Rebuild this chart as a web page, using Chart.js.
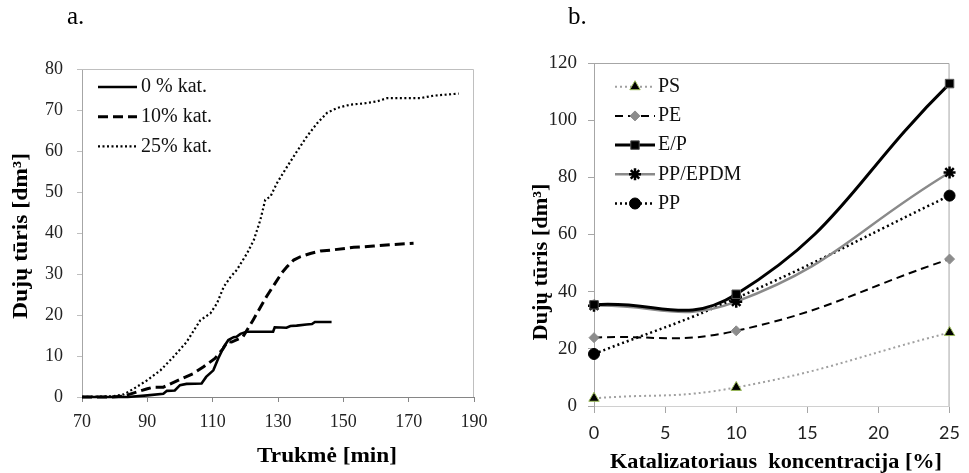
<!DOCTYPE html>
<html>
<head>
<meta charset="utf-8">
<script src="https://cdn.jsdelivr.net/npm/chart.js@4/dist/chart.umd.min.js"></script>
<style>
    html, body { margin: 0; padding: 0; background: #fff; }
    #page { position: relative; width: 969px; height: 473px; overflow: hidden; }
    .panel { position: absolute; top: 0; height: 473px; }
    #panel-a { left: 0; width: 500px; }
    #panel-b { left: 480px; width: 489px; }
    .letter { position: absolute; top: 2px; font: 25px "Liberation Serif", "Times New Roman", serif; color: #000; }
</style>
</head>
<body>
<div id="page">
    <div class="panel" id="panel-a"><canvas id="chart-a"></canvas></div>
    <div class="panel" id="panel-b"><canvas id="chart-b"></canvas></div>
    <div class="letter" style="left:67px;">a.</div>
    <div class="letter" style="left:568px;">b.</div>
</div>
<script>
'use strict';

// --- a. duju turis pagal trukme ---
const laikas0 = [70, 84, 90, 94.9, 96, 98.4, 100, 102, 106.6, 108, 110.2, 111.7, 113.4, 114.8, 116.4, 117.3, 118.5, 120.4, 128.5, 129, 132.6, 133.8, 135.7, 138.7, 140.4, 141.3, 146.4];
const turis0  = [0, 0, 0.4, 0.8, 1.5, 1.6, 2.9, 3.2, 3.3, 4.9, 6.5, 9.4, 12.2, 13.9, 14.6, 14.7, 15.4, 15.9, 15.9, 17, 16.9, 17.3, 17.4, 17.7, 17.8, 18.3, 18.3];

const laikas10 = [70, 79, 82.6, 86.7, 90, 91.8, 94.9, 100, 104, 107.1, 110.7, 113.2, 114.5, 115.8, 119.3, 122.4, 126.5, 131.1, 132.8, 134.8, 136.8, 139.9, 143, 147, 153.2, 159.3, 165.4, 171.5];
const turis10  = [0, 0, 0.2, 1.2, 2, 2.4, 2.4, 4.3, 5.7, 7.3, 9.4, 11.8, 13.5, 13.4, 14.7, 18.8, 24.5, 30.2, 31.8, 33.4, 34.2, 35, 35.6, 35.9, 36.5, 36.8, 37.2, 37.5];

const laikas25 = [70, 79.7, 82.8, 85.8, 90, 94, 98, 102, 106.2, 109.3, 111.3, 113.4, 115.5, 117.4, 120.5, 122.6, 124.6, 126.1, 127.7, 129.7, 132.8, 135.8, 138.9, 142, 145, 148.1, 152.1, 156.2, 160.3, 163.4, 167.4, 173.6, 177.7, 185.3];
const turis25  = [0, 0.2, 0.65, 2, 4.1, 6.5, 9.8, 13.4, 18.7, 20.4, 22.8, 26.9, 29.3, 31, 35, 38.3, 43.2, 48.1, 48.9, 52.2, 56.2, 59.9, 63.6, 66.8, 69.3, 70.5, 71.3, 71.6, 72.1, 72.9, 72.9, 72.9, 73.5, 74];

const ticksLaikas = [70, 90, 110, 130, 150, 170, 190];
const ticksTurisA = [0, 10, 20, 30, 40, 50, 60, 70, 80];

// --- b. duju turis pagal katalizatoriaus koncentracija ---
const koncentracija = [0, 10, 25];
const turisPS     = [2.7, 6.5, 25.7];
const turisPE     = [23.9, 26.3, 51.4];
const turisEP     = [35.4, 39.1, 112.8];
const turisPPEPDM = [35.1, 36.5, 81.7];
const turisPP     = [18.2, 37.7, 73.6];

const ticksKonc = [0, 5, 10, 15, 20, 25];
const ticksTurisB = [0, 20, 40, 60, 80, 100, 120];

const SERIF = '"Liberation Serif", "Times New Roman", serif';
const SANS = 'Lato, "Open Sans", sans-serif';

const toXY = (xs, ys) => xs.map((x, i) => ({ x, y: ys[i] }));

// remelis aplink brezinio plota (virsus ir desine)
const plotFrame = {
    id: 'plotFrame',
    beforeDatasetsDraw(chart, args, opts) {
        const { ctx, chartArea: a } = chart;
        ctx.save();
        ctx.strokeStyle = opts.color || '#bfbfbf';
        ctx.lineWidth = 1;
        ctx.beginPath();
        ctx.moveTo(a.left, a.top + 0.5);
        ctx.lineTo(a.right - 0.5, a.top + 0.5);
        ctx.lineTo(a.right - 0.5, a.bottom);
        ctx.stroke();
        ctx.restore();
    }
};

// legenda brezinio viduje, linija + zymeklis
const innerLegend = {
    id: 'innerLegend',
    afterDatasetsDraw(chart, args, opts) {
        const { ctx, chartArea } = chart;
        chart.data.datasets.forEach((ds, i) => {
            const x0 = chartArea.left + opts.left;
            const y = chartArea.top + opts.top + i * opts.rowGap;
            ctx.save();
            ctx.strokeStyle = ds.borderColor;
            ctx.lineWidth = ds.borderWidth;
            ctx.setLineDash(ds.borderDash || []);
            ctx.beginPath();
            ctx.moveTo(x0, y);
            ctx.lineTo(x0 + opts.lineLen, y);
            ctx.stroke();
            if (ds.pointRadius) {
                ctx.setLineDash([]);
                ctx.fillStyle = ds.pointBackgroundColor;
                ctx.strokeStyle = ds.pointBorderColor;
                ctx.lineWidth = ds.pointBorderWidth;
                Chart.helpers.drawPoint(ctx, {
                    pointStyle: ds.pointStyle, radius: ds.pointRadius, rotation: 0, borderWidth: ds.pointBorderWidth
                }, x0 + opts.lineLen / 2, y);
            }
            ctx.font = opts.font;
            ctx.fillStyle = '#111';
            ctx.textAlign = 'left';
            ctx.textBaseline = 'middle';
            ctx.fillText(ds.label, x0 + opts.lineLen + opts.gap, y);
            ctx.restore();
        });
    }
};

// asiu pavadinimai (originale istempti, todel ilgis nurodomas)
const axisTitles = {
    id: 'axisTitles',
    afterDraw(chart, args, opts) {
        const ctx = chart.ctx;
        (opts.items || []).forEach(it => {
            ctx.save();
            ctx.font = it.font || opts.font;
            ctx.fillStyle = '#000';
            ctx.textAlign = 'center';
            ctx.textBaseline = 'middle';
            ctx.translate(it.x, it.y);
            if (it.vertical) ctx.rotate(-Math.PI / 2);
            if (it.length) ctx.scale(it.length / ctx.measureText(it.text).width, 1);
            ctx.fillText(it.text, 0, 0);
            ctx.restore();
        });
    }
};

const lineA = (label, xs, ys, width, dash) => ({
    label, data: toXY(xs, ys),
    borderColor: '#000', borderWidth: width, borderDash: dash,
    pointRadius: 0, tension: 0, fill: false, clip: false
});

new Chart(document.getElementById('chart-a'), {
    type: 'line',
    data: {
        datasets: [
            lineA('0 % kat.', laikas0, turis0, 2.6, []),
            lineA('10% kat.', laikas10, turis10, 3, [10, 5]),
            lineA('25% kat.', laikas25, turis25, 2.2, [2, 2.5])
        ]
    },
    options: {
        responsive: true, maintainAspectRatio: false, animation: false,
        layout: { padding: { left: 0, right: 26, top: 69, bottom: 0 } },
        plugins: {
            legend: { display: false }, tooltip: { enabled: false },
            plotFrame: { color: '#bfbfbf' },
            innerLegend: { left: 16, top: 18, rowGap: 29.7, lineLen: 39, gap: 4, font: `20px ${SERIF}` },
            axisTitles: {
                font: `bold 21px ${SERIF}`,
                items: [
                    { text: 'Dujų tūris [dm³]', x: 22, y: 236, vertical: true, length: 166 },
                    { text: 'Trukmė [min]', x: 327, y: 456, length: 140, font: `bold 22px ${SERIF}` }
                ]
            }
        },
        scales: {
            x: {
                type: 'linear', min: 70, max: 190,
                afterFit: s => { s.height = 76; },
                afterBuildTicks: s => { s.ticks = ticksLaikas.map(v => ({ value: v })); },
                border: { color: '#868686', width: 1 },
                grid: { drawOnChartArea: false, tickLength: 5, color: '#868686' },
                ticks: { font: { family: SERIF, size: 18 }, color: '#222', padding: 9, maxRotation: 0 }
            },
            y: {
                min: 0, max: 80,
                afterFit: s => { s.width = 82; },
                afterBuildTicks: s => { s.ticks = ticksTurisA.map(v => ({ value: v })); },
                border: { color: '#a6a6a6', width: 1 },
                grid: { drawOnChartArea: false, tickLength: 5, color: '#bfbfbf' },
                ticks: { font: { family: SERIF, size: 18 }, color: '#222', padding: 14 }
            }
        }
    },
    plugins: [plotFrame, innerLegend, axisTitles]
});

const lineB = (label, ys, o) => Object.assign({
    label, data: toXY(koncentracija, ys),
    tension: 0.45, fill: false, clip: false, pointRadius: 5, pointBorderWidth: 1
}, o);

new Chart(document.getElementById('chart-b'), {
    type: 'line',
    data: {
        datasets: [
            lineB('PS', turisPS, {
                borderColor: '#a0a0a0', borderWidth: 2, borderDash: [2, 3],
                pointStyle: 'triangle', pointBackgroundColor: '#000', pointBorderColor: '#9bbb59', pointRadius: 6
            }),
            lineB('PE', turisPE, {
                borderColor: '#000', borderWidth: 2, borderDash: [8, 5],
                pointStyle: 'rectRot', pointBackgroundColor: '#8c8c8c', pointBorderColor: '#8c8c8c', pointRadius: 5
            }),
            lineB('E/P', turisEP, {
                borderColor: '#000', borderWidth: 3, borderDash: [],
                pointStyle: 'rect', pointBackgroundColor: '#000', pointBorderColor: '#555', pointRadius: 6
            }),
            lineB('PP/EPDM', turisPPEPDM, {
                borderColor: '#8a8a8a', borderWidth: 2.5, borderDash: [],
                pointStyle: 'star', pointBackgroundColor: '#000', pointBorderColor: '#000', pointRadius: 6, pointBorderWidth: 2.5
            }),
            lineB('PP', turisPP, {
                borderColor: '#000', borderWidth: 2.5, borderDash: [2, 3],
                pointStyle: 'circle', pointBackgroundColor: '#000', pointBorderColor: '#000', pointRadius: 5.5
            })
        ]
    },
    options: {
        responsive: true, maintainAspectRatio: false, animation: false,
        layout: { padding: { left: 0, right: 14, top: 63, bottom: 0 } },
        plugins: {
            legend: { display: false }, tooltip: { enabled: false },
            plotFrame: { color: '#a6a6a6' },
            innerLegend: { left: 21, top: 23.7, rowGap: 29.2, lineLen: 40, gap: 3, font: `20px ${SERIF}` },
            axisTitles: {
                font: `bold 21px ${SERIF}`,
                items: [
                    { text: 'Dujų tūris [dm³]', x: 62, y: 262, vertical: true, length: 157 },
                    { text: 'Katalizatoriaus  koncentracija [%]', x: 296, y: 463, length: 332 }
                ]
            }
        },
        scales: {
            x: {
                type: 'linear', min: 0, max: 25,
                afterFit: s => { s.height = 67; },
                afterBuildTicks: s => { s.ticks = ticksKonc.map(v => ({ value: v })); },
                border: { color: '#d0d0d0', width: 1 },
                grid: { drawOnChartArea: false, tickLength: 7, color: '#a6a6a6' },
                ticks: { font: { family: SANS, size: 18 }, color: '#222', padding: 9, maxRotation: 0 }
            },
            y: {
                min: 0, max: 120,
                afterFit: s => { s.width = 114; },
                afterBuildTicks: s => { s.ticks = ticksTurisB.map(v => ({ value: v })); },
                border: { color: '#a6a6a6', width: 1 },
                grid: { drawOnChartArea: false, tickLength: 6, color: '#a6a6a6' },
                ticks: { font: { family: SERIF, size: 19 }, color: '#222', padding: 11 }
            }
        }
    },
    plugins: [plotFrame, innerLegend, axisTitles]
});
</script>
</body>
</html>
